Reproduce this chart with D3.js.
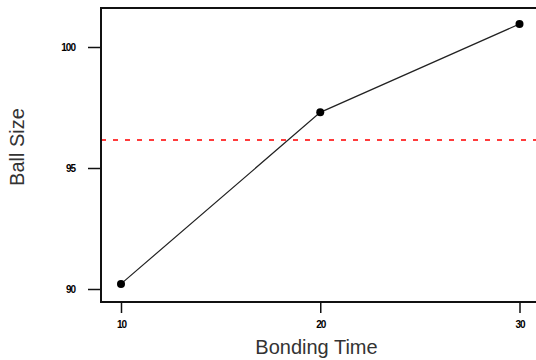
<!DOCTYPE html>
<html>
<head>
<meta charset="utf-8">
<script src="https://cdn.jsdelivr.net/npm/d3@7"></script>
<style>
    body { margin: 0; background: #fff; }
    svg { display: block; }
</style>
</head>
<body>
<svg id="chart"></svg>
<script>
// bonding time vs ball size
let bondingTimes = [10, 20, 30];
let ballSizes = [90.21, 97.30, 100.95];
let xTicks = [10, 20, 30];
let yTicks = [90, 95, 100];
let meanSize = 96.16;

let width = 536;
let height = 360;

let svg = d3.select("#chart")
    .attr("width", width)
    .attr("height", height);

// plot frame (right side runs off the picture)
let frame = { left: 101, top: 8, right: 540, bottom: 302 };

let x = d3.scaleLinear()
    .domain([10, 30])
    .range([121, 519.5]);

let y = d3.scaleLinear()
    .domain([90, 100])
    .range([289, 47]);

// mean line
svg.append("line")
    .attr("x1", frame.left)
    .attr("x2", frame.right)
    .attr("y1", y(meanSize))
    .attr("y2", y(meanSize))
    .attr("stroke", "#ff3b3b")
    .attr("stroke-width", 2)
    .attr("stroke-dasharray", "5,7");

// data line
let line = d3.line()
    .x((d, i) => x(bondingTimes[i]))
    .y(d => y(d));

svg.append("path")
    .datum(ballSizes)
    .attr("d", line)
    .attr("fill", "none")
    .attr("stroke", "#222")
    .attr("stroke-width", 1.2);

svg.selectAll(".pt")
    .data(ballSizes)
    .enter()
    .append("circle")
        .attr("class", "pt")
        .attr("cx", (d, i) => x(bondingTimes[i]))
        .attr("cy", d => y(d))
        .attr("r", 4)
        .attr("fill", "#000");

// frame
svg.append("rect")
    .attr("x", frame.left)
    .attr("y", frame.top)
    .attr("width", frame.right - frame.left)
    .attr("height", frame.bottom - frame.top)
    .attr("fill", "none")
    .attr("stroke", "#111")
    .attr("stroke-width", 2);

// x axis
let xAxis = d3.axisBottom(x)
    .tickValues(xTicks)
    .tickSize(11)
    .tickPadding(8)
    .tickFormat(d3.format("d"));

let gx = svg.append("g")
    .attr("transform", `translate(0,${frame.bottom})`)
    .call(xAxis);
gx.select(".domain").remove();

// y axis
let yAxis = d3.axisLeft(y)
    .tickValues(yTicks)
    .tickSize(13)
    .tickPadding(13)
    .tickFormat(d3.format("d"));

let gy = svg.append("g")
    .attr("transform", `translate(${frame.left},0)`)
    .call(yAxis);
gy.select(".domain").remove();

svg.selectAll(".tick line")
    .attr("stroke", "#111")
    .attr("stroke-width", 1.5);

svg.selectAll(".tick text")
    .attr("font-family", "Liberation Sans, Arial, sans-serif")
    .attr("font-size", 10)
    .attr("font-weight", "bold")
    .attr("letter-spacing", -1)
    .attr("fill", "#000");

// axis titles
svg.append("text")
    .attr("x", 316.5)
    .attr("y", 354)
    .attr("text-anchor", "middle")
    .attr("font-family", "Liberation Sans, Arial, sans-serif")
    .attr("font-size", 20)
    .attr("fill", "#333")
    .text("Bonding Time");

svg.append("text")
    .attr("transform", "translate(24,147) rotate(-90)")
    .attr("text-anchor", "middle")
    .attr("font-family", "Liberation Sans, Arial, sans-serif")
    .attr("font-size", 20)
    .attr("fill", "#333")
    .text("Ball Size");
</script>
</body>
</html>
